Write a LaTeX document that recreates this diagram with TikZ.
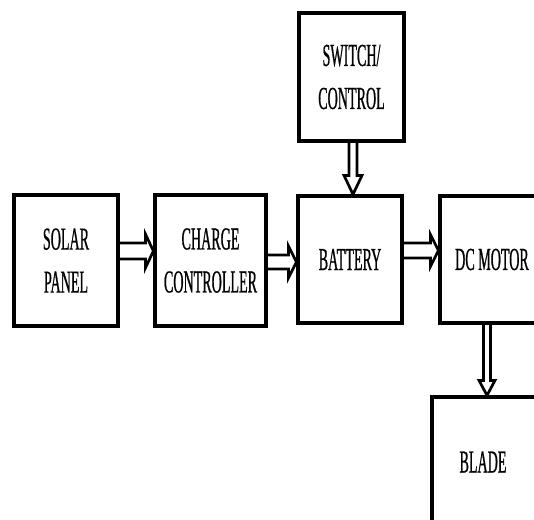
\documentclass[tikz,border=0pt]{standalone}
\usepackage{fontspec}
\setmainfont{Liberation Serif}[FakeStretch=0.44, FakeBold=0.6]
\usetikzlibrary{calc}
\tikzset{
  blk/.style={draw=black, line width=3.2pt, inner sep=0pt, align=center,
    font=\fontsize{32}{43}\selectfont},
  arrowline/.style={draw=black, line width=2.7pt, line join=miter, miter limit=10}
}
% horizontal hollow arrow: from, to, y centre (px), half shaft, half head, head length
\newcommand\harrow[6]{%
  \draw[arrowline] let \p1=(#1.east), \p2=(#2.west) in
    (\x1,-#3pt+#4pt) -- (\x2-#6pt,-#3pt+#4pt) -- (\x2-#6pt,-#3pt+#5pt) -- (\x2,-#3pt)
    -- (\x2-#6pt,-#3pt-#5pt) -- (\x2-#6pt,-#3pt-#4pt) -- (\x1,-#3pt-#4pt);}
% vertical hollow arrow: from, to, x centre (px), half shaft, half head, head length
\newcommand\varrow[6]{%
  \draw[arrowline] let \p1=(#1.south), \p2=(#2.north) in
    (#3pt-#4pt,\y1) -- (#3pt-#4pt,\y2+#6pt) -- (#3pt-#5pt,\y2+#6pt) -- (#3pt,\y2)
    -- (#3pt+#5pt,\y2+#6pt) -- (#3pt+#4pt,\y2+#6pt) -- (#3pt+#4pt,\y1);}
\begin{document}
\begin{tikzpicture}[x=1pt,y=1pt]
\useasboundingbox (0,0) rectangle (534,-519);
\clip (0,0) rectangle (534,-519);
\node[blk, minimum width=104pt, minimum height=131pt] (solar) at (66,-260.5) {SOLAR\\PANEL};
\node[blk, minimum width=111pt, minimum height=131pt] (charge) at (210.5,-260.5) {CHARGE\\CONTROLLER};
\node[blk, minimum width=105pt, minimum height=128pt] (switch) at (351.5,-77) {SWITCH/\\CONTROL};
\node[blk, minimum width=104pt, minimum height=127pt] (battery) at (350,-259.5) {BATTERY};
\node[blk, minimum width=104pt, minimum height=127pt] (motor) at (492,-259.5) {DC MOTOR};
\node[blk, minimum width=106pt, minimum height=130pt] (blade) at (485,-462) {\hspace*{-4pt}BLADE};
\harrow{solar}{charge}{251}{8}{17}{8}
\harrow{charge}{battery}{262}{7}{16}{8}
\harrow{battery}{motor}{250.5}{7.5}{16}{8}
\varrow{switch}{battery}{353}{4}{9}{19}
\varrow{motor}{blade}{487}{3.5}{8}{15}
\end{tikzpicture}
\end{document}
